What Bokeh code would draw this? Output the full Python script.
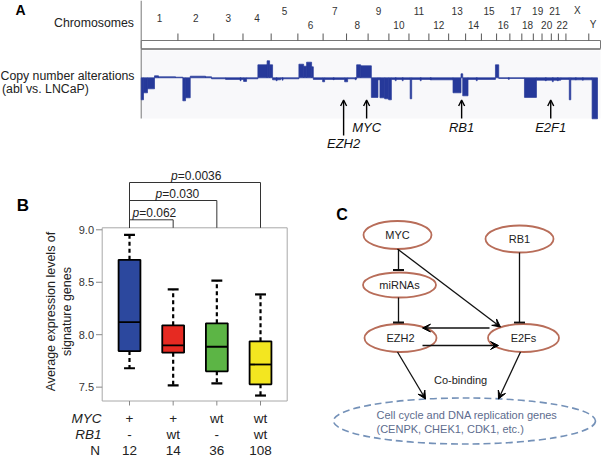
import numpy as np
from bokeh.plotting import figure
from bokeh.models import Range1d, Arrow, OpenHead, VeeHead
from bokeh.layouts import column, row
from bokeh.embed import file_html
from bokeh.resources import INLINE
from bokeh.core.properties import value

FONT = "Liberation Sans"

# ---------------- data: panel A ----------------
chrom_names = ["1", "2", "3", "4", "5", "6", "7", "8", "9", "10", "11", "12",
               "13", "14", "15", "16", "17", "18", "19", "20", "21", "22", "X", "Y"]
chrom_len_mb = [249, 243, 198, 191, 181, 171, 159, 146, 141, 136, 135, 134,
                115, 107, 103, 90, 81, 78, 59, 63, 48, 51, 155, 59]

seg_start_mb = [0, 15.6, 42.7, 90.2, 117.3, 232.7, 282.2, 300.5, 332.4, 436.1,
                476.8, 571.8, 693.9, 714.2, 790.9, 853.3, 870.3, 890.6, 944.9, 1069.0,
                1100.9, 1121.2, 1155.1, 1166.7, 1229.8, 1243.3, 1379.0, 1399.3, 1460.4, 1487.5,
                1560.1, 1604.9, 1618.4, 1650.3, 1677.4, 1695.8, 1823.3, 1833.4, 1962.3, 2113.6,
                2167.8, 2179.4, 2215.3, 2401.2, 2423.6, 2597.9, 2679.3, 2844.1, 2901.8, 2911.9,
                3056.4]
seg_end_mb = [15.6, 42.7, 90.2, 117.3, 232.7, 282.2, 300.5, 332.4, 436.1, 476.8,
              571.8, 693.9, 714.2, 790.9, 853.3, 870.3, 890.6, 944.9, 1069.0, 1100.9,
              1121.2, 1155.1, 1166.7, 1229.8, 1243.3, 1379.0, 1399.3, 1460.4, 1487.5, 1560.1,
              1604.9, 1618.4, 1650.3, 1677.4, 1695.8, 1823.3, 1833.4, 1962.3, 2113.6, 2167.8,
              2179.4, 2215.3, 2401.2, 2423.6, 2597.9, 2679.3, 2844.1, 2901.8, 2911.9, 3056.4,
              3093.0]
seg_log2 = [-1.10, -0.75, -0.55, 0.10, 0.05, 0.03, -1.15, -1.00, 0.08, 0.05,
            -0.05, -0.08, -0.18, -0.05, 0.65, 0.85, 0.65, -0.10, -0.05, 0.68,
            0.58, 0.78, 0.55, -0.08, -0.20, -0.08, -0.20, -0.05, 0.65, 0.60,
            -0.98, -0.10, -1.00, -1.05, -1.10, -0.08, -1.05, -0.08, -0.10, -0.75,
            0.20, -0.90, -0.08, 0.65, -0.03, -0.98, -0.12, -0.08, -1.10, -0.10,
            -2.05]

# small focal events along the baseline
focal_pos_mb = [673.5, 917.8, 958.4, 1304.4, 1453.6, 1725.0, 1772.4, 1894.5, 1962.3,
                2274.4, 2491.5, 2742.4, 2789.9, 2823.8, 2945.9, 2993.4]
focal_log2 = [-0.15, -0.15, -0.12, -0.10, -0.10, -0.15, -0.15, -0.15, -0.10,
              -0.15, -0.08, -0.15, -0.20, -0.15, -0.10, -0.12]

genes = ["EZH2", "MYC", "RB1", "E2F1"]
gene_pos_mb = [1372, 1528, 2172, 2776]

# ---------------- data: panel B ----------------
groups = [1, 2, 3, 4]
box_colors = ["#2c489e", "#e62a22", "#5cb545", "#f3e620"]
whisker_hi = [8.952, 8.432, 8.515, 8.384]
q3 = [8.714, 8.089, 8.108, 7.937]
median = [8.120, 7.898, 7.885, 7.716]
q1 = [7.844, 7.829, 7.651, 7.527]
whisker_lo = [7.680, 7.517, 7.536, 7.420]
y_ticks = [7.5, 8.0, 8.5, 9.0]
y_tick_labels = ["7.5", "8.0", "8.5", "9.0"]
myc_status = ["+", "+", "wt", "wt"]
rb1_status = ["-", "wt", "-", "wt"]
n_samples = ["12", "14", "36", "108"]
comparisons = [(1, 2), (1, 3), (1, 4)]
p_values = ["0.062", "0.030", "0.0036"]

# ---------------- data: panel C ----------------
node_names = ["MYC", "RB1", "miRNAs", "EZH2", "E2Fs"]
edges = [("MYC", "miRNAs", "inhibit"), ("miRNAs", "EZH2", "inhibit"),
         ("MYC", "E2Fs", "activate"), ("RB1", "E2Fs", "inhibit"),
         ("E2Fs", "EZH2", "activate"), ("EZH2", "E2Fs", "activate"),
         ("EZH2", "genes", "activate"), ("E2Fs", "genes", "activate")]
target_lines = ["Cell cycle and DNA replication genes", "(CENPK, CHEK1, CDK1, etc.)"]


def base_fig(w, h, xr, yr):
    p = figure(width=w, height=h, x_range=xr, y_range=yr, output_backend="svg",
               toolbar_location=None, x_axis_type=None, y_axis_type=None, min_border=0)
    p.grid.visible = False
    p.outline_line_color = None
    p.background_fill_color = "white"
    p.border_fill_color = "white"
    return p


def txt(p, xs, ys, texts, size, align="left", style="normal", color="#222222",
        angle=0.0, **kw):
    p.text(x=xs, y=ys, text=texts, text_font=value(FONT), text_font_size=f"{size}px",
           text_align=align, text_baseline="middle", text_font_style=style,
           text_color=color, angle=angle, **kw)


TOP_H = 156
# =============== Panel A ===============
WA, HA = 601, TOP_H
g0 = 140.7                                   # x of genome start
k = (597.0 - g0) / sum(chrom_len_mb)         # px per Mb
figA = base_fig(WA, HA, Range1d(-g0 / k, (WA - g0) / k), Range1d(-HA, 0))
figA.extra_x_ranges = {"px": Range1d(0, WA)}
cn_base = 77.3
cn_scale = 20.0
figA.extra_y_ranges = {"cn": Range1d((cn_base - HA) / cn_scale, cn_base / cn_scale)}


def ay(ry):
    return -ry


cum = np.cumsum(chrom_len_mb)
starts = cum - np.array(chrom_len_mb)
mids = (starts + cum) / 2.0
xend = (WA - 1 - g0) / k

# background of copy number track
figA.quad(left=[0], right=[xend], top=[ay(50)], bottom=[ay(118)],
          fill_color="#f8f8fa", line_color=None)
# chromosome bar
figA.quad(left=[0], right=[xend], top=[ay(40)], bottom=[ay(48)],
          fill_color="white", line_color="#777777", line_width=1)
figA.segment(x0=[0], y0=[ay(48.6)], x1=[xend], y1=[ay(48.6)], line_color="#8c8c8c", line_width=2)
# ticks
figA.segment(x0=cum[:-1], y0=[ay(33)] * (len(cum) - 1), x1=cum[:-1], y1=[ay(40)] * (len(cum) - 1),
             line_color="#555555", line_width=1)
# left vertical line
figA.segment(x0=[0], y0=[ay(0)], x1=[0], y1=[ay(118)], line_color="#777777", line_width=1)

# chromosome labels
lab_y = []
for i in range(len(chrom_names)):
    if i < 4:
        lab_y.append(ay(17))
    elif (i - 4) % 2 == 0:
        lab_y.append(ay(10))
    else:
        lab_y.append(ay(24))
txt(figA, list(mids), lab_y, chrom_names, 10, align="center", color="#333333")

# copy number segments
v = np.array(seg_log2)
figA.quad(left=seg_start_mb, right=seg_end_mb, top=np.maximum(v, 0), bottom=np.minimum(v, 0),
          fill_color="#26399a", line_color="#26399a", line_width=0.7, y_range_name="cn")
fp = np.array(focal_pos_mb)
fv = np.array(focal_log2)
figA.quad(left=fp - 3.5, right=fp + 3.5, top=np.maximum(fv, 0), bottom=np.minimum(fv, 0),
          fill_color="#26399a", line_color="#26399a", line_width=0.5, y_range_name="cn")

# gene arrows
for g, pos in zip(genes, gene_pos_mb):
    tail = 135 if g == "EZH2" else 118
    ly = 142.5 if g == "EZH2" else 127
    figA.add_layout(Arrow(end=OpenHead(size=6, line_width=1.4, line_color="black"),
                          x_start=pos, y_start=ay(tail), x_end=pos, y_end=ay(99.5),
                          line_width=1.4, line_color="black"))
    txt(figA, [pos], [ay(ly)], [g], 13, align="center", style="italic", color="#111111")

# left texts
txt(figA, [15], [ay(9.5)], ["A"], 14, style="bold", color="black", x_range_name="px")
txt(figA, [133.5], [ay(22)], ["Chromosomes"], 12.3, align="right", x_range_name="px")
txt(figA, [0], [ay(75)], ["Copy number alterations"], 12.3, x_range_name="px")
txt(figA, [1.5], [ay(88)], ["(abl vs. LNCaP)"], 12.3, x_range_name="px")

# =============== Panel B ===============
WB, HB = 300, 456 - TOP_H


def bx(rx):
    return 1 + (rx - 129.0) / 43.67


def by(ry):
    return 9.0 - (ry - 229.3) / 104.9


figB = base_fig(WB, HB, Range1d(bx(0), bx(WB)), Range1d(by(TOP_H + HB), by(TOP_H)))

fl, fr, ft, fb = bx(101.7), bx(286.7), by(227.3), by(400.5)
figB.quad(left=[fl], right=[fr], top=[ft], bottom=[fb], fill_color=None,
          line_color="#a8a8a8", line_width=1)
figB.segment(x0=[bx(95.5)] * 4, y0=y_ticks, x1=[fl] * 4, y1=y_ticks, line_color="#888888")
txt(figB, [bx(93.5)] * 4, y_ticks, y_tick_labels, 11, align="right", color="#333333")
figB.segment(x0=groups, y0=[fb] * 4, x1=groups, y1=[by(405)] * 4, line_color="#888888")

gx = np.array(groups, dtype=float)
hw = 0.25
figB.segment(x0=gx, y0=q3, x1=gx, y1=whisker_hi, line_color="black", line_width=2.2, line_dash="4 3")
figB.segment(x0=gx, y0=q1, x1=gx, y1=whisker_lo, line_color="black", line_width=2.2, line_dash="4 3")
figB.segment(x0=gx - hw / 2, y0=whisker_hi, x1=gx + hw / 2, y1=whisker_hi, line_color="black", line_width=2.2)
figB.segment(x0=gx - hw / 2, y0=whisker_lo, x1=gx + hw / 2, y1=whisker_lo, line_color="black", line_width=2.2)
figB.quad(left=gx - hw, right=gx + hw, top=q3, bottom=q1, fill_color=box_colors,
          line_color="black", line_width=1.8)
figB.segment(x0=gx - hw, y0=median, x1=gx + hw, y1=median, line_color="black", line_width=1.8)

bracket_top_ref = [219.3, 200.0, 182.0]
p_left_ref = [132.0, 155.0, 170.5]
p_y_ref = [212.5, 193.0, 175.0]
for (a, b), pv, tr, pl, pyr in zip(comparisons, p_values, bracket_top_ref, p_left_ref, p_y_ref):
    figB.line(x=[a, a, b, b], y=[ft, by(tr), by(tr), ft], line_color="#333333", line_width=1)
    txt(figB, [bx(pl)], [by(pyr)], ["p"], 12, style="italic")
    txt(figB, [bx(pl + 6.7)], [by(pyr)], ["=" + pv], 12)

txt(figB, [bx(50)], [by(311)], ["Average expression levels of"], 12.5, align="center", angle=np.pi / 2)
txt(figB, [bx(66)], [by(311)], ["signature genes"], 12.5, align="center", angle=np.pi / 2)
txt(figB, [bx(22.5)], [by(205)], ["B"], 17, align="center", style="bold", color="black")

row_y = [by(418.3), by(433.5), by(449.5)]
txt(figB, [bx(101)], [row_y[0]], ["MYC"], 13.5, align="right", style="italic")
txt(figB, [bx(101)], [row_y[1]], ["RB1"], 13.5, align="right", style="italic")
txt(figB, [bx(99.5)], [row_y[2]], ["N"], 13.5, align="right")
txt(figB, groups, [row_y[0]] * 4, myc_status, 13.5, align="center")
txt(figB, groups, [row_y[1]] * 4, rb1_status, 13.5, align="center")
txt(figB, groups, [row_y[2]] * 4, n_samples, 13.5, align="center")

# =============== Panel C ===============
WC, HC = 601 - WB, 456 - TOP_H
figC = base_fig(WC, HC, Range1d(WB, WB + WC), Range1d(-(TOP_H + HC), -TOP_H))

node_geom = {"MYC": (397, 234.5, 68, 28), "RB1": (519, 238.5, 68, 27),
             "miRNAs": (399, 284.5, 73, 25), "EZH2": (400, 337.5, 72, 28),
             "E2Fs": (523, 337.5, 71, 28)}
nx = [node_geom[n][0] for n in node_names]
ny = [-node_geom[n][1] for n in node_names]
nw = [node_geom[n][2] for n in node_names]
nh = [node_geom[n][3] for n in node_names]
figC.ellipse(x=nx, y=ny, width=nw, height=nh, fill_color="white",
             line_color="#b86d59", line_width=1.8)
txt(figC, nx, ny, node_names, 11, align="center", color="#222222")

figC.ellipse(x=[464], y=[-420.5], width=[262], height=[46], fill_color=None,
             line_color="#7491b8", line_width=1.6, line_dash="7 4")
txt(figC, [376, 376], [-414, -428.3], target_lines, 11, color="#5d6c8e")
txt(figC, [433.5], [-379], ["Co-binding"], 11, color="#222222")
txt(figC, [341.5], [-214], ["C"], 16, align="center", style="bold", color="black")

edge_geom = {("MYC", "miRNAs"): (398, 248.5, 398, 269.5),
             ("miRNAs", "EZH2"): (398, 297, 398, 322),
             ("MYC", "E2Fs"): (397, 248.5, 500, 326.5),
             ("RB1", "E2Fs"): (519, 252, 519, 322),
             ("E2Fs", "EZH2"): (489, 327.5, 422, 327.5),
             ("EZH2", "E2Fs"): (422, 345, 498, 345),
             ("EZH2", "genes"): (397, 351.5, 425, 398.5),
             ("E2Fs", "genes"): (520, 351.5, 498, 398.5)}
for s, t, kind in edges:
    x0, y0, x1, y1 = edge_geom[(s, t)]
    if kind == "activate":
        figC.add_layout(Arrow(end=VeeHead(size=8, fill_color="black", line_color="black", line_width=1),
                              x_start=x0, y_start=-y0, x_end=x1, y_end=-y1,
                              line_width=1.3, line_color="#111111"))
    else:
        figC.segment(x0=[x0], y0=[-y0], x1=[x1], y1=[-y1], line_color="#111111", line_width=1.3)
        figC.segment(x0=[x1 - 5.5], y0=[-y1], x1=[x1 + 5.5], y1=[-y1], line_color="#111111", line_width=1.8)

layout = column(figA, row(figB, figC, spacing=0), spacing=0)
open("out.html", "w").write(file_html(layout, INLINE))
